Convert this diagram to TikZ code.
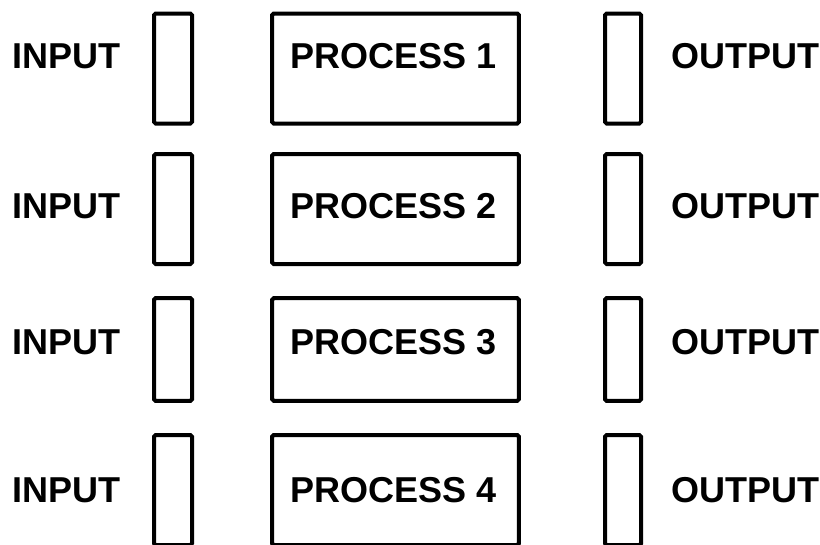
\documentclass[tikz,border=0pt]{standalone}
\usepackage{fontspec}
\setmainfont{Liberation Sans}

\tikzset{
    slot/.style={draw, line width=3pt, rounded corners=1.2pt, minimum width=28.5pt, minimum height=82.5pt, inner sep=0pt},
    procbox/.style={draw, line width=3pt, rounded corners=1.2pt, minimum width=185pt, minimum height=82.5pt, inner sep=0pt},
    lbl/.style={inner sep=0pt, font=\bfseries\fontsize{27}{30}\selectfont}
}

\begin{document}
\begin{tikzpicture}[x=0.75pt, y=-0.75pt]
                    \clip (0,0) rectangle (820,544);

                    % First row
                    \node[lbl] (in1) at (66.5,56.5) {INPUT};
                    \node[slot] (a1) at (173,68.5) {};
                    \node[procbox] (p1) at (395.5,68.5) {};
                    \node[lbl] (pt1) at (394,56.5) {PROCESS 1};
                    \node[slot, minimum width=27pt] (b1) at (623,68.5) {};
                    \node[lbl] (out1) at (745.5,56.5) {OUTPUT};

                    % Second row
                    \node[lbl] (in2) at (66.5,206.5) {INPUT};
                    \node[slot] (a2) at (173,209) {};
                    \node[procbox] (p2) at (395.5,209) {};
                    \node[lbl] (pt2) at (394,206.5) {PROCESS 2};
                    \node[slot, minimum width=27pt] (b2) at (623,209) {};
                    \node[lbl] (out2) at (745.5,206.5) {OUTPUT};

                    % Third row
                    \node[lbl] (in3) at (66.5,342) {INPUT};
                    \node[slot, minimum height=77pt] (a3) at (173,349.5) {};
                    \node[procbox, minimum height=77pt] (p3) at (395.5,349.5) {};
                    \node[lbl] (pt3) at (394,342) {PROCESS 3};
                    \node[slot, minimum width=27pt, minimum height=77pt] (b3) at (623,349.5) {};
                    \node[lbl] (out3) at (745.5,342) {OUTPUT};

                    % Fourth row (cut at the bottom)
                    \node[lbl] (in4) at (66.5,490) {INPUT};
                    \node[slot] (a4) at (173,490) {};
                    \node[procbox] (p4) at (395.5,490) {};
                    \node[lbl] (pt4) at (394,490) {PROCESS 4};
                    \node[slot, minimum width=27pt] (b4) at (623,490) {};
                    \node[lbl] (out4) at (745.5,490) {OUTPUT};
                \end{tikzpicture}
\end{document}
